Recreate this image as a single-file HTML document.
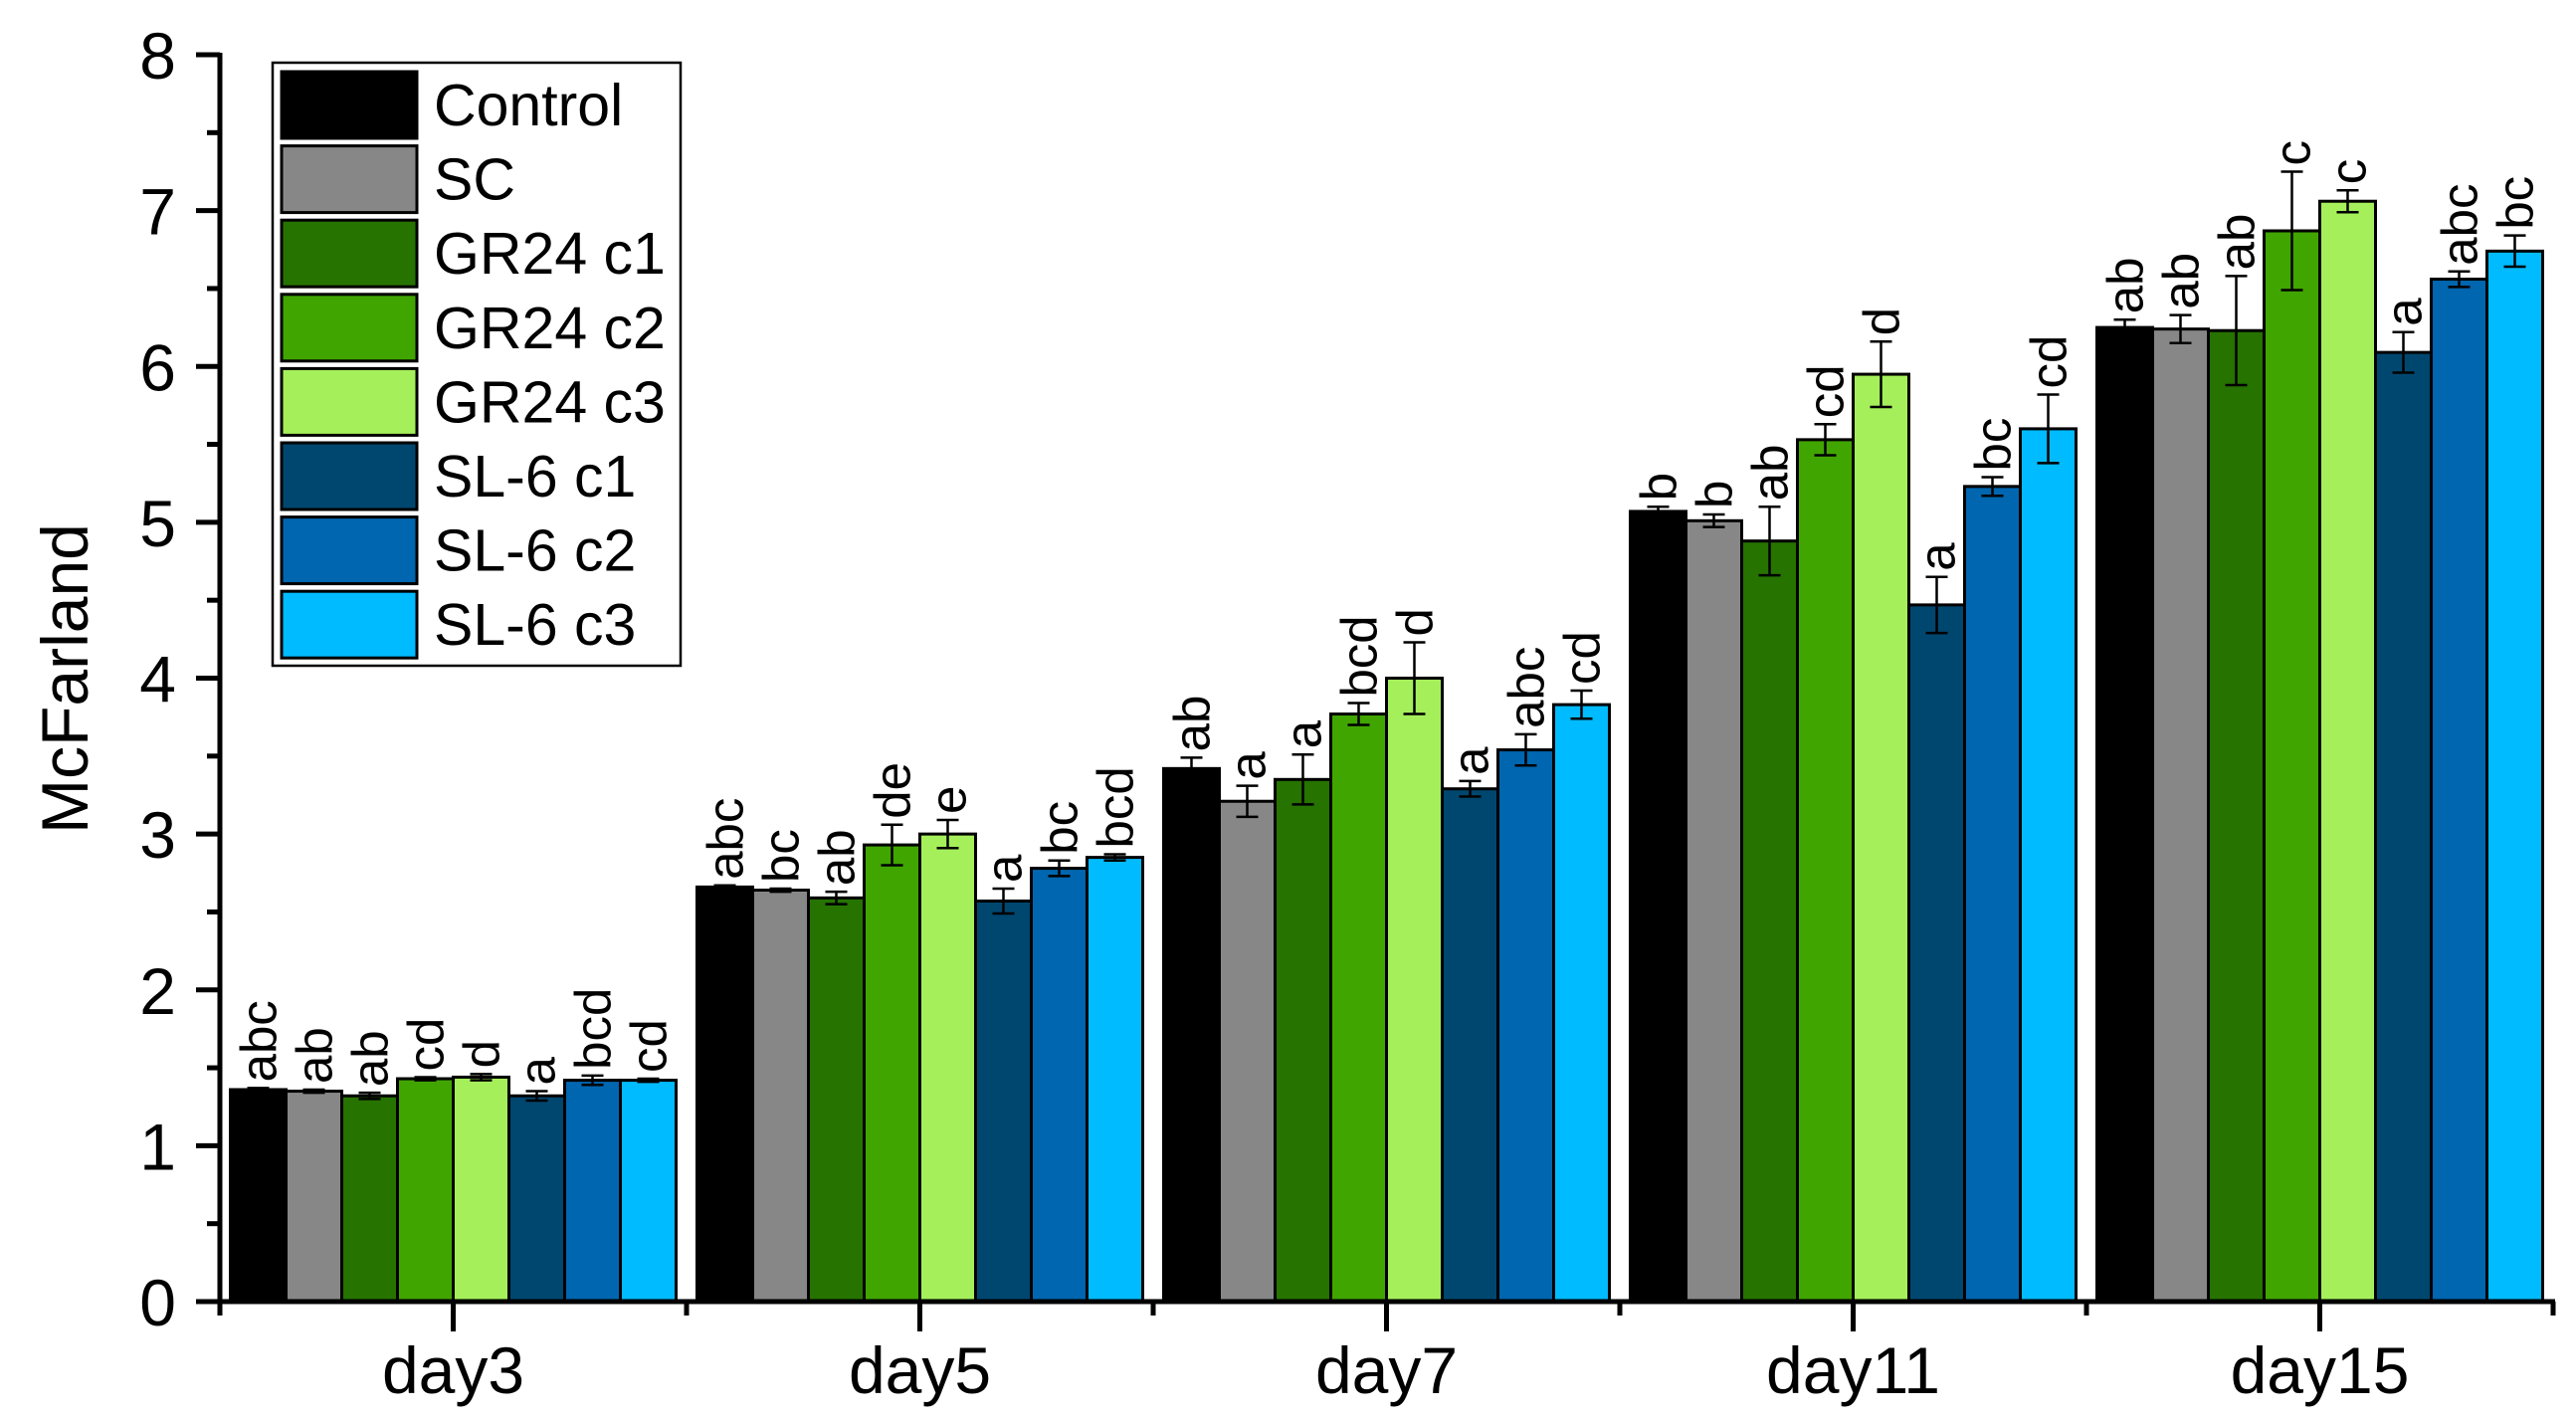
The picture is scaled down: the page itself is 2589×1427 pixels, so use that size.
<!DOCTYPE html>
<html><head><meta charset="utf-8"><style>
html,body{margin:0;padding:0;background:#fff;}
svg{display:block;font-family:"Liberation Sans",Arial,sans-serif;}
</style></head><body>
<svg id="chart" width="2589" height="1427" viewBox="0 0 2589 1427" xmlns="http://www.w3.org/2000/svg">
<g id="bars"></g>
<g id="axes"></g>
<g id="legend"></g>
</svg>
<script>
const categories = ["day3","day5","day7","day11","day15"];
const seriesNames = ["Control","SC","GR24 c1","GR24 c2","GR24 c3","SL-6 c1","SL-6 c2","SL-6 c3"];
const seriesColors = ["#000000","#878787","#267300","#41A500","#A5F05A","#00476F","#0066AF","#00BBFF"];
const values = [
 [1.36,1.35,1.32,1.43,1.44,1.32,1.42,1.42],
 [2.66,2.64,2.59,2.93,3.00,2.57,2.78,2.85],
 [3.42,3.21,3.35,3.77,4.00,3.29,3.54,3.83],
 [5.07,5.01,4.88,5.53,5.95,4.47,5.23,5.60],
 [6.25,6.24,6.23,6.87,7.06,6.09,6.56,6.74]
];
const errors = [
 [0.01,0.01,0.02,0.01,0.02,0.03,0.03,0.01],
 [0.01,0.01,0.04,0.13,0.09,0.08,0.05,0.02],
 [0.07,0.10,0.16,0.07,0.23,0.05,0.10,0.09],
 [0.03,0.04,0.22,0.10,0.21,0.18,0.06,0.22],
 [0.05,0.09,0.35,0.38,0.07,0.13,0.05,0.10]
];
const letters = [
 ["abc","ab","ab","cd","d","a","bcd","cd"],
 ["abc","bc","ab","de","e","a","bc","bcd"],
 ["ab","a","a","bcd","d","a","abc","cd"],
 ["b","b","ab","cd","d","a","bc","cd"],
 ["ab","ab","ab","c","c","a","abc","bc"]
];
const yTicks = [0,1,2,3,4,5,6,7,8];

const NS="http://www.w3.org/2000/svg";
const X0=221, X1=2566, Y0=1308, Y8=55, YMAX=8;
const groupW=(X1-X0)/categories.length;
const barW=56;
function y(v){return Y0-(Y0-Y8)*v/YMAX;}
function gx(i){return X0+groupW*i;}
function bx(i,j){return gx(i)+(groupW-barW*8)/2+barW*j;}
function mk(tag,attrs,parent){const e=document.createElementNS(NS,tag);for(const k in attrs)e.setAttribute(k,attrs[k]);parent.appendChild(e);return e;}

const gb=document.getElementById('bars');
categories.forEach((c,i)=>{
  values[i].forEach((v,j)=>{
    const x=bx(i,j);
    const r=mk('rect',{x:x,y:y(v),width:barW,height:Y0-y(v),fill:seriesColors[j],stroke:'#000','stroke-width':3},gb);
    
    
    const cx=x+barW/2, e=errors[i][j];
    const eb=mk('path',{d:`M${cx},${y(v+e)}V${y(v-e)}M${cx-11},${y(v+e)}H${cx+11}M${cx-11},${y(v-e)}H${cx+11}`,stroke:'#000','stroke-width':2.5,fill:'none'},gb);
    
    
    const ty=y(v+e)-6;
    const t=mk('text',{x:cx+18,y:ty,transform:`rotate(-90 ${cx+18} ${ty})`,'font-size':51,fill:'#000'},gb);
    t.textContent=letters[i][j];
    
    
  });
});

const ga=document.getElementById('axes');
mk('line',{x1:X0,y1:Y8-2,x2:X0,y2:Y0+2,stroke:'#000','stroke-width':5},ga);
mk('line',{x1:X0-2,y1:Y0,x2:X1+2,y2:Y0,stroke:'#000','stroke-width':5},ga);
yTicks.forEach(v=>{
  mk('line',{x1:X0-24,y1:y(v),x2:X0,y2:y(v),stroke:'#000','stroke-width':5},ga);
  if(v<YMAX) mk('line',{x1:X0-13,y1:y(v+0.5),x2:X0,y2:y(v+0.5),stroke:'#000','stroke-width':5},ga);
  const t=mk('text',{x:X0-44,y:y(v)+24,'font-size':66,'text-anchor':'end',fill:'#000'},ga);
  t.textContent=v;
  
  
});
for(let i=0;i<=categories.length;i++){
  mk('line',{x1:gx(i),y1:Y0,x2:gx(i),y2:Y0+14,stroke:'#000','stroke-width':5},ga);
}
categories.forEach((c,i)=>{
  const cx=gx(i)+groupW/2;
  mk('line',{x1:cx,y1:Y0,x2:cx,y2:Y0+30,stroke:'#000','stroke-width':5},ga);
  const t=mk('text',{x:cx,y:Y0+92,'font-size':66,'text-anchor':'middle',fill:'#000'},ga);
  t.textContent=c;
  
  
});
const yt=mk('text',{x:88,y:682,transform:'rotate(-90 88 682)','font-size':66,'text-anchor':'middle',fill:'#000'},ga);
yt.textContent='McFarland';



const gl=document.getElementById('legend');
mk('rect',{x:274,y:63,width:410,height:606,fill:'#fff',stroke:'#000','stroke-width':2.5},gl);
seriesNames.forEach((n,j)=>{
  const ry=72+j*74.6;
  const s=mk('rect',{x:283,y:ry,width:136,height:67,fill:seriesColors[j],stroke:'#000','stroke-width':3},gl);
  
  
  const t=mk('text',{x:436,y:ry+54,'font-size':59,fill:'#000'},gl);
  t.textContent=n;
  
  
});
</script>
</body></html>
